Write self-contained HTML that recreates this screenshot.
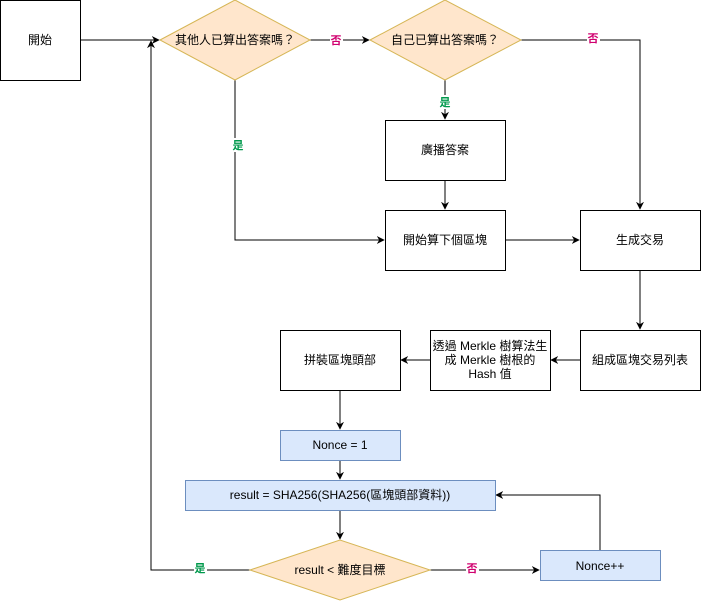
<!DOCTYPE html>
<html><head><meta charset="utf-8"><style>
html,body{margin:0;padding:0;background:#fff;}
svg{display:block;}
text{font-family:"Liberation Sans","Noto Sans CJK TC",sans-serif;font-size:12px;fill:#000;}
.l{font-size:11px;font-weight:bold;}
</style></head><body>
<svg width="701" height="601" viewBox="0 0 701 601" xmlns="http://www.w3.org/2000/svg">
<defs>
<marker id="a" viewBox="0 0 10 10" refX="9" refY="5" markerWidth="8" markerHeight="8" orient="auto" markerUnits="userSpaceOnUse">
<path d="M0,0 L10,5 L0,10 L3,5 Z" fill="#000"/></marker>
</defs>
<g fill="none" stroke="#000" stroke-width="1">
<path d="M80,40 H159" marker-end="url(#a)"/>
<path d="M310,40 H369" marker-end="url(#a)"/>
<path d="M521,40 H640 V209" marker-end="url(#a)"/>
<path d="M445,80 V119" marker-end="url(#a)"/>
<path d="M445,180 V209" marker-end="url(#a)"/>
<path d="M235,80 V240 H384" marker-end="url(#a)"/>
<path d="M505,240 H579" marker-end="url(#a)"/>
<path d="M640,270 V329" marker-end="url(#a)"/>
<path d="M580,360 H551" marker-end="url(#a)"/>
<path d="M430,360 H401" marker-end="url(#a)"/>
<path d="M340,390 V429" marker-end="url(#a)"/>
<path d="M340,460 V479" marker-end="url(#a)"/>
<path d="M340,510 V539" marker-end="url(#a)"/>
<path d="M430,570 H539" marker-end="url(#a)"/>
<path d="M600,550 V495 H496" marker-end="url(#a)"/>
<path d="M250,570 H151 V41" marker-end="url(#a)"/>
</g>
<rect x="0.5" y="0.5" width="80" height="80" fill="#fff" stroke="#000"/>
<polygon points="160,40 235,0 310,40 235,80" fill="#ffe6cc" stroke="#d6b656"/>
<polygon points="370,40 445,0 521,40 445,80" fill="#ffe6cc" stroke="#d6b656"/>
<rect x="385.5" y="120.5" width="120" height="60" fill="#fff" stroke="#000"/>
<rect x="385.5" y="210.5" width="120" height="60" fill="#fff" stroke="#000"/>
<rect x="580.5" y="210.5" width="120" height="60" fill="#fff" stroke="#000"/>
<rect x="280.5" y="330.5" width="120" height="60" fill="#fff" stroke="#000"/>
<rect x="430.5" y="330.5" width="120" height="60" fill="#fff" stroke="#000"/>
<rect x="580.5" y="330.5" width="120" height="60" fill="#fff" stroke="#000"/>
<rect x="280.5" y="430.5" width="120" height="30" fill="#dae8fc" stroke="#6c8ebf"/>
<rect x="185.5" y="480.5" width="310" height="30" fill="#dae8fc" stroke="#6c8ebf"/>
<polygon points="250,570 340,540 430,570 340,600" fill="#ffe6cc" stroke="#d6b656"/>
<rect x="540.5" y="550.5" width="120" height="30" fill="#dae8fc" stroke="#6c8ebf"/>
<g text-anchor="middle">
<text x="40" y="44">開始</text>
<text x="235" y="44">其他人已算出答案嗎？</text>
<text x="445" y="44">自己已算出答案嗎？</text>
<text x="445" y="154">廣播答案</text>
<text x="445" y="244">開始算下個區塊</text>
<text x="640" y="244">生成交易</text>
<text x="340" y="364">拼裝區塊頭部</text>
<text x="490" y="350">透過 Merkle 樹算法生</text>
<text x="490" y="364">成 Merkle 樹根的</text>
<text x="490" y="378">Hash 值</text>
<text x="640" y="364">組成區塊交易列表</text>
<text x="340" y="449">Nonce = 1</text>
<text x="340" y="499">result = SHA256(SHA256(區塊頭部資料))</text>
<text x="340" y="574">result &lt; 難度目標</text>
<text x="600" y="570">Nonce++</text>
</g>
<g text-anchor="middle" class="l">
<rect x="330" y="33" width="13" height="14" fill="#fff"/>
<text class="l" x="336" y="44" fill="#d0006f" style="fill:#d0006f">否</text>
<rect x="587" y="31" width="13" height="14" fill="#fff"/>
<text class="l" x="593" y="42" style="fill:#d0006f">否</text>
<rect x="439" y="95" width="13" height="14" fill="#fff"/>
<text class="l" x="445" y="106" style="fill:#00994c">是</text>
<rect x="231" y="138" width="13" height="14" fill="#fff"/>
<text class="l" x="238" y="149" style="fill:#00994c">是</text>
<rect x="194" y="562" width="13" height="14" fill="#fff"/>
<text class="l" x="200" y="572" style="fill:#00994c">是</text>
<rect x="466" y="562" width="13" height="14" fill="#fff"/>
<text class="l" x="472" y="572" style="fill:#d0006f">否</text>
</g>
</svg>
</body></html>
